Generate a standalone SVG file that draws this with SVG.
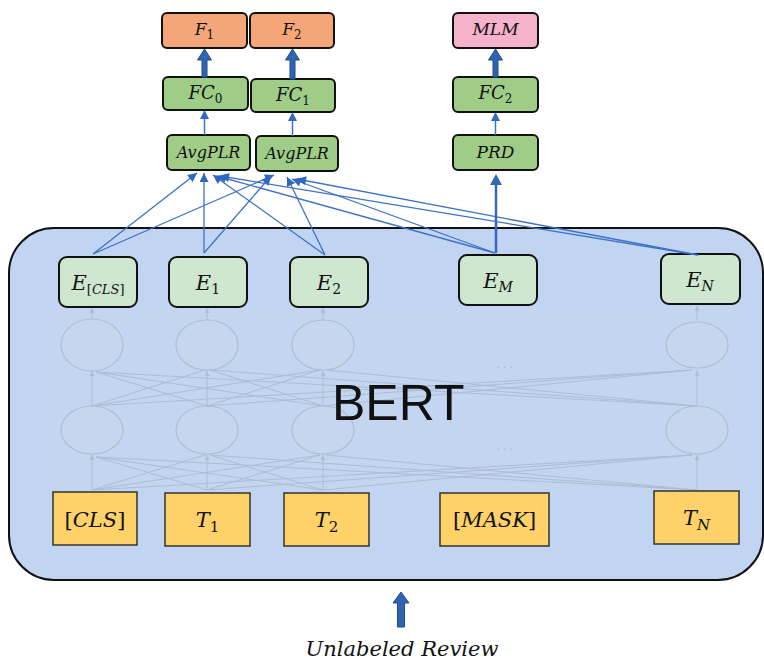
<svg xmlns="http://www.w3.org/2000/svg" width="764" height="661" viewBox="0 0 764 661">
<style>
.box{stroke:#111;stroke-width:2}
.f{fill:#f5a679}
.mlm{fill:#f6b1cb}
.g{fill:#9fcc87}
.e{fill:#cfe6cf}
.tok{fill:#fed169;stroke:#333;stroke-width:1.5}
.m{font-family:"DejaVu Serif","Liberation Serif",serif;font-style:italic;fill:#111;text-anchor:middle}
.up{font-style:normal}
.fan{stroke:#3d72c6;stroke-width:1.3;fill:none;marker-end:url(#ah)}
.faint{stroke:#a7b5cb;stroke-width:1;fill:none;opacity:.75}
.fell{fill:#c6d6ef;stroke:#b0bdd1;stroke-width:1.2}
.blk{fill:#2f64b2;stroke:#1f4d8e;stroke-width:1}
</style>
<defs>
<marker id="ah" viewBox="0 0 10 10" refX="10" refY="5" markerUnits="userSpaceOnUse" markerWidth="10" markerHeight="9" orient="auto">
<path d="M0,0 L10,5 L0,10 z" fill="#2f66c0"/>
</marker>
<marker id="fa" viewBox="0 0 10 10" refX="10" refY="5" markerUnits="userSpaceOnUse" markerWidth="5" markerHeight="5" orient="auto">
<path d="M0,0 L10,5 L0,10 z" fill="#a7b5cb"/>
</marker>
</defs>

<g id="bert">
<rect x="9" y="228" width="754" height="352" rx="45" fill="#c1d4f2" stroke="#111" stroke-width="2"/>
<rect x="42" y="306" width="703" height="184" fill="#c3d5f1"/>
<g id="bert-internals">
<g class="faint">
<line x1="92" y1="320" x2="92" y2="308" marker-end="url(#fa)"/>
<line x1="207" y1="320" x2="207" y2="308" marker-end="url(#fa)"/>
<line x1="323" y1="320" x2="323" y2="308" marker-end="url(#fa)"/>
<line x1="697" y1="320" x2="697" y2="306" marker-end="url(#fa)"/>
<line x1="92" y1="406" x2="92" y2="371" marker-end="url(#fa)"/>
<line x1="207" y1="406" x2="207" y2="371" marker-end="url(#fa)"/>
<line x1="323" y1="406" x2="323" y2="371" marker-end="url(#fa)"/>
<line x1="697" y1="406" x2="697" y2="371" marker-end="url(#fa)"/>
<line x1="92" y1="490" x2="92" y2="455" marker-end="url(#fa)"/>
<line x1="207" y1="490" x2="207" y2="455" marker-end="url(#fa)"/>
<line x1="323" y1="490" x2="323" y2="455" marker-end="url(#fa)"/>
<line x1="697" y1="490" x2="697" y2="455" marker-end="url(#fa)"/>
<path d="M92,406 L205,370 M92,406 L320,370 M92,406 L692,370 M207,406 L96,372 M207,406 L320,370 M207,406 L692,370 M323,406 L96,372 M323,406 L210,370 M323,406 L692,370 M697,406 L96,372 M697,406 L210,370 M697,406 L326,370"/>
<path d="M92,490 L205,455 M92,490 L320,455 M92,490 L692,455 M207,490 L96,457 M207,490 L320,455 M207,490 L692,455 M323,490 L96,457 M323,490 L210,455 M323,490 L692,455 M697,490 L96,457 M697,490 L210,455 M697,490 L326,455"/>
</g>
<ellipse class="fell" cx="92" cy="345" rx="31" ry="26"/>
<ellipse class="fell" cx="207" cy="345" rx="31" ry="25"/>
<ellipse class="fell" cx="323" cy="345" rx="31" ry="25"/>
<ellipse class="fell" cx="697" cy="345" rx="31" ry="23"/>
<ellipse class="fell" cx="92" cy="430" rx="31" ry="24"/>
<ellipse class="fell" cx="207" cy="430" rx="31" ry="24"/>
<ellipse class="fell" cx="323" cy="430" rx="31" ry="24"/>
<ellipse class="fell" cx="697" cy="430" rx="31" ry="24"/>
<text x="505" y="368" font-family="Liberation Sans,sans-serif" font-size="12" fill="#a7b5cb" text-anchor="middle">. . .</text>
<text x="505" y="450" font-family="Liberation Sans,sans-serif" font-size="12" fill="#a7b5cb" text-anchor="middle">. . .</text>
</g>
<text x="332" y="420" font-family="Liberation Sans,Arial,sans-serif" font-size="50" fill="#111">BERT</text>
</g>

<g id="tok-cls"><rect class="tok" x="53" y="492" width="84" height="53"/><text class="m" x="95" y="527" font-size="21"><tspan class="up">[</tspan>CLS<tspan class="up">]</tspan></text></g>
<g id="tok-t1"><rect class="tok" x="165" y="493" width="85" height="53"/><text class="m" x="207.5" y="527" font-size="21">T<tspan class="up" font-size="15" dy="5">1</tspan></text></g>
<g id="tok-t2"><rect class="tok" x="284" y="493" width="85" height="53"/><text class="m" x="326.5" y="527" font-size="21">T<tspan class="up" font-size="15" dy="5">2</tspan></text></g>
<g id="tok-mask"><rect class="tok" x="440" y="493" width="109" height="53"/><text class="m" x="494.5" y="527" font-size="21"><tspan class="up">[</tspan>MASK<tspan class="up">]</tspan></text></g>
<g id="tok-tn"><rect class="tok" x="654" y="491" width="85" height="53"/><text class="m" x="696.5" y="525" font-size="21">T<tspan font-size="15" dy="5">N</tspan></text></g>

<g id="e-cls"><rect class="box e" x="59" y="257" width="78" height="50" rx="8"/><text class="m" x="98" y="290" font-size="21">E<tspan font-size="13" dy="4"><tspan class="up">[</tspan>CLS<tspan class="up">]</tspan></tspan></text></g>
<g id="e-1"><rect class="box e" x="169" y="257" width="78" height="50" rx="8"/><text class="m" x="208" y="290" font-size="21">E<tspan class="up" font-size="14" dy="4">1</tspan></text></g>
<g id="e-2"><rect class="box e" x="290" y="257" width="78" height="50" rx="8"/><text class="m" x="329" y="290" font-size="21">E<tspan class="up" font-size="14" dy="4">2</tspan></text></g>
<g id="e-m"><rect class="box e" x="459" y="255" width="78" height="50" rx="8"/><text class="m" x="498" y="288" font-size="21">E<tspan font-size="14" dy="4">M</tspan></text></g>
<g id="e-n"><rect class="box e" x="661" y="254" width="79" height="50" rx="8"/><text class="m" x="700" y="287" font-size="21">E<tspan font-size="14" dy="4">N</tspan></text></g>

<g id="avg1"><rect class="box g" x="167" y="135" width="83" height="35" rx="5"/><text class="m" x="208.5" y="158" font-size="16">AvgPLR</text></g>
<g id="avg2"><rect class="box g" x="256" y="136" width="82" height="35" rx="5"/><text class="m" x="297" y="159" font-size="16">AvgPLR</text></g>
<g id="prd"><rect class="box g" x="453" y="135" width="85" height="35" rx="5"/><text class="m" x="495.5" y="158" font-size="17">PRD</text></g>
<g id="fc0"><rect class="box g" x="163" y="77" width="85" height="33" rx="5"/><text class="m" x="205.5" y="99" font-size="18">FC<tspan class="up" font-size="12" dy="4">0</tspan></text></g>
<g id="fc1"><rect class="box g" x="251" y="79" width="84" height="33" rx="5"/><text class="m" x="293" y="101" font-size="18">FC<tspan class="up" font-size="12" dy="4">1</tspan></text></g>
<g id="fc2"><rect class="box g" x="453" y="77" width="85" height="35" rx="5"/><text class="m" x="495.5" y="99" font-size="18">FC<tspan class="up" font-size="12" dy="4">2</tspan></text></g>
<g id="f1"><rect class="box f" x="162" y="13" width="85" height="35" rx="5"/><text class="m" x="204.5" y="35" font-size="17">F<tspan class="up" font-size="12" dy="4">1</tspan></text></g>
<g id="f2"><rect class="box f" x="250" y="13" width="84" height="35" rx="5"/><text class="m" x="292" y="35" font-size="17">F<tspan class="up" font-size="12" dy="4">2</tspan></text></g>
<g id="mlm"><rect class="box mlm" x="453" y="13" width="85" height="35" rx="5"/><text class="m" x="495.5" y="35" font-size="17">MLM</text></g>

<g id="connectors">
<line class="fan" x1="93" y1="254" x2="197" y2="173"/>
<line class="fan" x1="93" y1="254" x2="274" y2="175"/>
<line class="fan" x1="204" y1="253" x2="204" y2="173"/>
<line class="fan" x1="204" y1="253" x2="271" y2="176"/>
<line class="fan" x1="325" y1="255" x2="213" y2="175"/>
<line class="fan" x1="325" y1="255" x2="287" y2="177"/>
<line class="fan" x1="495" y1="253" x2="217" y2="176"/>
<line class="fan" x1="495" y1="253" x2="292" y2="179"/>
<line class="fan" x1="698" y1="255" x2="220" y2="176"/>
<line class="fan" x1="698" y1="255" x2="297" y2="179"/>
<line x1="496" y1="253" x2="496" y2="184" stroke="#3468bb" stroke-width="2.5"/>
<path d="M496,174 L502,185 L490,185 z" fill="#3468bb"/>
<line x1="204.5" y1="135" x2="204.5" y2="118" stroke="#3d72c6" stroke-width="1.5"/>
<path d="M204.5,110 L209,119 L200,119 z" fill="#3168c0"/>
<line x1="292.5" y1="136" x2="292.5" y2="120" stroke="#3d72c6" stroke-width="1.5"/>
<path d="M292.5,112 L297,121 L288,121 z" fill="#3168c0"/>
<line x1="495.5" y1="135" x2="495.5" y2="119" stroke="#3d72c6" stroke-width="1.5"/>
<path d="M495.5,112 L500,121 L491,121 z" fill="#3168c0"/>
<path class="blk" d="M204.5,49 L211.5,60 L207,60 L207,77 L202,77 L202,60 L197.5,60 z"/>
<path class="blk" d="M292.5,49 L299.5,60 L295,60 L295,79 L290,79 L290,60 L285.5,60 z"/>
<path class="blk" d="M495.5,49 L502.5,60 L498,60 L498,77 L493,77 L493,60 L488.5,60 z"/>
<path class="blk" d="M401,592 L409,603 L404.5,603 L404.5,627 L397.5,627 L397.5,603 L393,603 z"/>
</g>

<text class="m" x="402" y="656" font-size="21">Unlabeled Review</text>
</svg>
